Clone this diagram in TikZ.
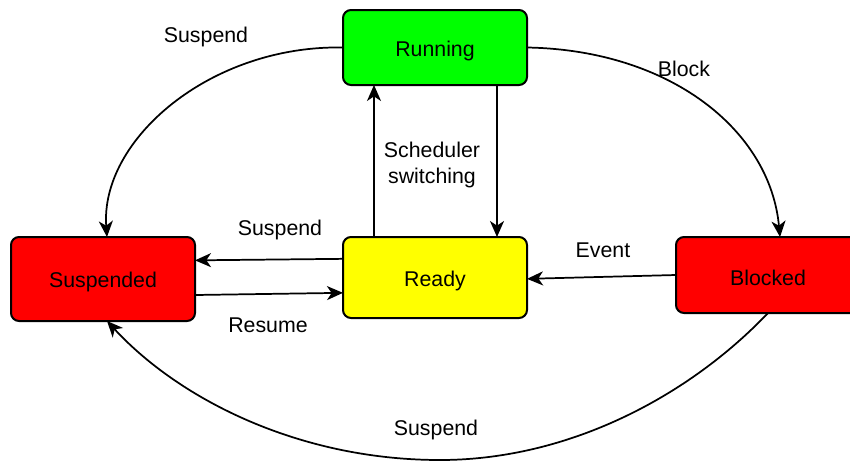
\documentclass[tikz,border=0pt]{standalone}
\usepackage{fontspec}
\setmainfont{Liberation Sans}
\usetikzlibrary{arrows.meta}
\newcommand{\lowered}[1]{\raisebox{-2.5pt}[\height][\depth]{#1}}
\tikzset{
  state/.style={draw=black, line width=1.5pt, rounded corners=6pt,
    minimum width=138pt, inner sep=0pt, outer sep=0pt,
    font=\fontsize{16}{19}\selectfont},
  conn/.style={line width=1.3pt,
    -{Stealth[length=12pt,width=10.5pt,inset=3.5pt]}},
  lbl/.style={font=\fontsize{16}{19}\selectfont, inner sep=0pt, align=center},
}
\definecolor{rungreen}{RGB}{0,255,0}
\definecolor{suspred}{RGB}{255,0,0}
\definecolor{readyyellow}{RGB}{255,255,0}
\begin{document}
\begin{tikzpicture}[x=0.75pt,y=-0.75pt]
  \useasboundingbox (0,0) rectangle (850,461);
  \clip (0,0) rectangle (850,461);

  % states
  \node[state, fill=rungreen, minimum height=56.25pt] (run) at (435,47.5) {\lowered{Running}};
  \node[state, fill=suspred, minimum height=63pt] (susp) at (103,279) {\lowered{Suspended}};
  \node[state, fill=readyyellow, minimum height=60.75pt] (ready) at (435,277.5) {\lowered{Ready}};
  \node[state, fill=suspred, minimum height=57pt] (blk) at (768,275) {\lowered{Blocked}};

  % transitions between states
  \draw[conn] (run.west) .. controls (210,45) and (100,140) .. ([xshift=3pt]susp.north);
  \draw[conn] (run.east) .. controls (670,50) and (770,130) .. ([xshift=9pt]blk.north);
  \draw[conn] ([xshift=-45.75pt]ready.north) -- ([xshift=-45.75pt]run.south);
  \draw[conn] ([xshift=46.5pt]run.south) -- ([xshift=46.5pt]ready.north);
  \draw[conn] ([yshift=14pt]ready.west) -- ([yshift=14pt]susp.east);
  \draw[conn] ([yshift=-12pt]susp.east) -- ([yshift=-11.5pt]ready.west);
  \draw[conn] (blk.west) -- ([yshift=-1pt]ready.east);
  \draw[conn] (blk.south) .. controls (690,395) and (570,460) .. (440,460)
                          .. controls (300,460) and (180,400) .. ([xshift=3pt]susp.south);

  % transition labels
  \node[lbl] (lsusp1) at (206,37) {Suspend};
  \node[lbl] (lblock) at (684,69) {Block};
  \node[lbl] (lsched) at (432,165) {Scheduler\\switching};
  \node[lbl] (lsusp2) at (280,230) {Suspend};
  \node[lbl] (lres) at (268,325) {Resume};
  \node[lbl] (levent) at (603,250) {Event};
  \node[lbl] (lsusp3) at (436,430) {Suspend};
\end{tikzpicture}
\end{document}
